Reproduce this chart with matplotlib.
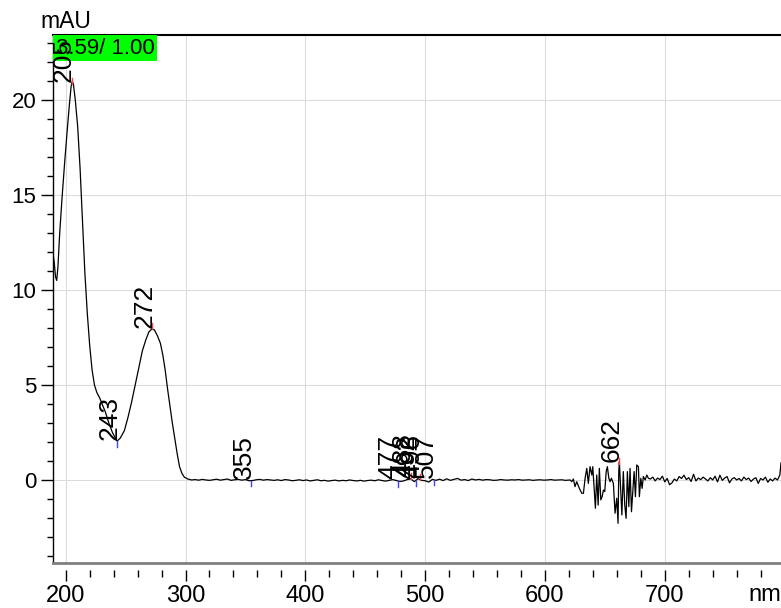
import numpy as np
import matplotlib
matplotlib.use("Agg")
import matplotlib.pyplot as plt
from matplotlib.patches import Rectangle
from matplotlib.ticker import MultipleLocator

plt.rcParams['font.family'] = ['Liberation Sans', 'DejaVu Sans']

# main absorption bands (nm, mAU)
band_nm = [189.5, 190.5, 191.5, 192.5, 193.5, 195, 197, 199, 201, 203, 204.5, 205.5,
           206.5, 208, 210, 212, 214, 216, 218, 220, 222, 224, 226, 228.5, 231, 233,
           236, 239, 241.5, 243, 245.5, 249, 252, 255, 258, 261, 264, 267, 269.5, 272,
           274, 276.5, 279, 281, 283, 285, 287, 289, 291, 293, 295, 297, 299, 302]
band_mau = [11.9, 11.4, 10.7, 10.5, 11.2, 13.0, 14.9, 16.6, 18.2, 19.7, 20.7, 21.0,
            20.8, 20.0, 18.6, 16.4, 13.7, 10.9, 8.8, 7.1, 5.8, 5.0, 4.6, 4.3, 3.9, 3.6,
            3.0, 2.5, 2.2, 2.05, 2.2, 2.6, 3.3, 4.1, 5.0, 5.9, 6.8, 7.4, 7.8, 7.95,
            7.9, 7.6, 7.2, 6.6, 5.8, 4.8, 3.9, 3.0, 2.2, 1.4, 0.7, 0.35, 0.15, 0.05]

# flat baseline, 305..611 nm every 3 nm
flat_start = 305
flat_mau = [0.00, 0.02, -0.01, 0.03, 0.00, -0.02, 0.01, 0.04, -0.01, 0.02,
            0.05, -0.02, 0.01, 0.03, -0.01, 0.02, -0.04, -0.03, 0.01, 0.03,
            -0.01, 0.02, 0.00, -0.02, 0.01, -0.03, 0.02, 0.00, -0.04, -0.02,
            0.01, -0.03, 0.00, -0.05, -0.02, 0.01, -0.04, -0.02, -0.06, -0.03,
            -0.01, -0.05, -0.02, -0.04, 0.00, -0.03, -0.05, -0.02, -0.06, -0.03,
            -0.01, -0.04, 0.01, -0.03, -0.06, -0.02, 0.02, -0.03, -0.08, -0.05,
            0.02, 0.06, -0.09, 0.07, -0.02, -0.04, -0.11, 0.03, -0.02, 0.04,
            -0.03, 0.06, -0.02, 0.03, 0.08, -0.01, 0.02, -0.03, 0.05, 0.00,
            0.03, -0.01, 0.02, 0.01, -0.02, -0.01, 0.02, 0.00, -0.01, 0.01,
            0.00, 0.02, -0.01, 0.00, 0.01, -0.02, 0.00, 0.01, -0.01, 0.00,
            0.02, -0.01, 0.00]

# noisy region
noisy_nm = [614, 617, 621.0, 622.4, 623.7, 625.1, 626.5, 628.7, 630.7, 632.1, 633.5,
            634.9, 636.2, 637.6, 639.1, 639.9, 641.0, 642.1, 643.2, 644.4, 645.4,
            646.6, 647.7, 648.8, 649.9, 651.1, 652.1, 653.3, 654.4, 655.4, 657.1,
            658.5, 659.9, 661.0, 661.6, 662.1, 664.2, 665.4, 666.6, 667.7, 668.8,
            670.0, 671.0, 672.2, 673.3, 674.4, 675.5, 676.6, 678.0, 678.8, 680.0,
            681.1, 682.1, 683.6, 685.0, 686.3]
noisy_mau = [0.01, -0.02, 0.0, -0.09, 0.05, -0.35, -0.09, -0.44, -0.70, -0.70, 0.09,
             0.61, -0.18, 0.70, 0.26, 0.70, -0.44, -1.49, 0.26, -1.32, 0.61,
             -1.05, -0.88, -0.53, -0.61, 0.44, 0.70, 0.09, -0.09, 0.09, -0.18,
             -1.75, -0.96, -2.28, 0.44, 0.96, -1.84, 0.44, -1.32, -2.02, 0.44,
             -1.40, 0.61, -1.67, -0.61, 0.44, -0.88, 0.79, 0.70, -0.88, 0.09,
             -0.44, 0.18, 0.0, 0.26, 0.09]

# tail, 688..796 nm every 2 nm, then the end point
tail_start = 688
tail_mau = [0.05, 0.15, -0.05, 0.10, 0.02, 0.20, -0.10, 0.08, -0.25, -0.15,
            0.05, -0.05, 0.18, 0.08, 0.25, 0.02, 0.12, -0.08, 0.30, -0.05,
            0.10, 0.02, 0.15, 0.05, -0.05, 0.12, 0.00, 0.20, -0.10, 0.25,
            -0.02, 0.10, 0.18, -0.15, 0.05, 0.12, 0.00, 0.08, -0.05, 0.15,
            0.02, 0.10, -0.08, 0.05, 0.12, -0.18, 0.08, 0.00, 0.15, -0.12,
            0.05, -0.05, 0.10, 0.00, 0.25]
end_nm, end_mau = 797, 0.9

peak_labels = [205, 243, 272, 355, 477, 488, 492, 496, 507, 662]
peak_is_max = [True, False, True, False, False, True, False, True, False, True]

flat_nm = flat_start + 3 * np.arange(len(flat_mau))
tail_nm = tail_start + 2 * np.arange(len(tail_mau))
nm = np.concatenate([band_nm, flat_nm, noisy_nm, tail_nm, [end_nm]])
mau = np.concatenate([band_mau, flat_mau, noisy_mau, tail_mau, [end_mau]])

fig = plt.figure(figsize=(7.81, 6.08), dpi=100)
ax = fig.add_axes([53 / 781, 45 / 608, 728 / 781, 528 / 608])

xmin, xmax = 189.4, 797
ymin, ymax = -4.37, 23.42
ax.set_xlim(xmin, xmax)
ax.set_ylim(ymin, ymax)

ax.plot(nm, mau, color='black', lw=0.9, zorder=2)

# little peak / valley marks and rotated labels
for p, is_max in zip(peak_labels, peak_is_max):
    yv = np.interp(p, nm, mau)
    if is_max:
        ax.plot([p, p], [yv, yv + 0.3], color='#ff4040', lw=1, zorder=3)
    else:
        ax.plot([p, p], [yv, yv - 0.3], color='#4040ff', lw=1, zorder=3)
    ax.annotate(str(p), (p, yv), xytext=(3, 1), textcoords='offset points',
                rotation=90, ha='right', va='bottom', fontsize=19, zorder=5)

# green info box in the top-left corner
ax.add_patch(Rectangle((0, 1 - 26 / 528), 104 / 728, 26 / 528, transform=ax.transAxes,
                       facecolor='#00ff00', edgecolor='none', zorder=4, clip_on=False))
ax.text(3 / 728, 1 - 13 / 528, '3.59/ 1.00', transform=ax.transAxes, ha='left',
        va='center', fontsize=16, zorder=4)

ax.xaxis.set_major_locator(MultipleLocator(100))
ax.xaxis.set_minor_locator(MultipleLocator(20))
ax.yaxis.set_major_locator(MultipleLocator(5))
ax.yaxis.set_minor_locator(MultipleLocator(1))
ax.grid(True, which='major', color='#dcdcdc', lw=0.8, zorder=0)
ax.set_axisbelow(True)

ax.tick_params(axis='y', which='major', direction='out', length=9, width=1,
               labelsize=16, pad=3)
ax.tick_params(axis='y', which='minor', direction='out', length=4.5, width=1)
ax.tick_params(axis='x', which='major', direction='out', length=8, width=1,
               labelsize=17, pad=3)
ax.tick_params(axis='x', which='minor', direction='out', length=5, width=1)
for lab in ax.get_xticklabels():
    lab.set_family(['Liberation Sans Narrow', 'Liberation Sans'])

ax.spines['right'].set_visible(False)
ax.spines['top'].set_color('black')
ax.spines['top'].set_linewidth(1.5)
ax.spines['left'].set_color('black')
ax.spines['left'].set_linewidth(1)
ax.spines['bottom'].set_position(('outward', 5))
ax.spines['bottom'].set_color('none')
ax.axhline(ymin, color='#7f7f7f', lw=2, clip_on=False, zorder=3)

fig.text(40 / 781, 1 - 21 / 608, 'mAU', ha='left', va='center', fontsize=16.5)
fig.text(781 / 781, 1 - 595 / 608, 'nm', ha='right', va='center', fontsize=17,
         family=['Liberation Sans Narrow', 'Liberation Sans'])

fig.savefig('out.png', dpi=100)
